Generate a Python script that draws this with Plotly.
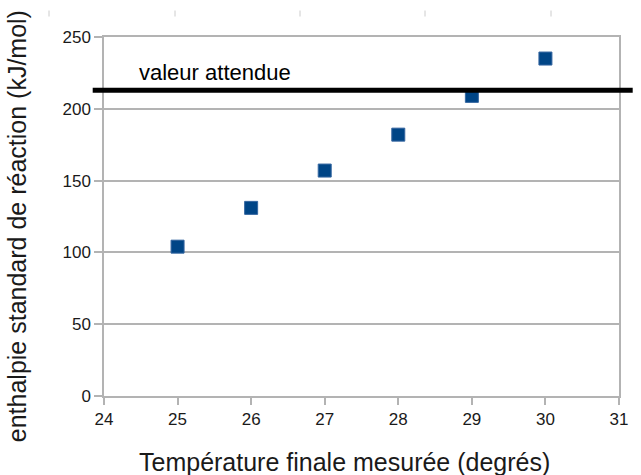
import plotly.graph_objects as go

temperatures = [25, 26, 27, 28, 29, 30]
enthalpies = [104, 131, 157, 182, 209, 235]
expected_value = 213
expected_label = "valeur attendue"
x_title = "Température finale mesurée (degrés)"
y_title = "enthalpie standard de réaction (kJ/mol)"

W, H = 641, 475
SL, SR, ST, SB = 104, 619, 36.5, 396  # plot-area edges in pixels
L, T, R, B = SL, ST, W - SR, H - SB
pw, ph = SR - SL, SB - ST

def px_x(px):
    return (px - SL) / pw

def px_y(py):
    return (SB - py) / ph

fig = go.Figure()
fig.add_trace(go.Scatter(
    x=temperatures, y=enthalpies, mode="markers",
    marker=dict(symbol="square", size=13, color="#004586",
                line=dict(color="#3566a0", width=1)),
    showlegend=False, hoverinfo="x+y"))

shapes = [dict(type="line", xref="paper", yref="y",
               x0=px_x(92.7), x1=px_x(632.7), y0=expected_value, y1=expected_value,
               line=dict(color="black", width=5), layer="above")]
# faint tick artefacts at top of image
for xp in [49, 175, 300, 425, 551]:
    shapes.append(dict(type="line", xref="paper", yref="paper",
                       x0=px_x(xp), x1=px_x(xp), y0=px_y(10), y1=px_y(16),
                       line=dict(color="#cccccc", width=1)))

annotations = [
    dict(text=expected_label, xref="paper", yref="y",
         x=px_x(137), y=expected_value, xanchor="left", yanchor="bottom",
         yshift=3, showarrow=False, font=dict(size=22, color="black")),
    dict(text=x_title, xref="paper", yref="paper",
         x=px_x(344), y=px_y(462), xanchor="center", yanchor="middle",
         showarrow=False, font=dict(size=25, color="#1a1a1a")),
    dict(text=y_title, xref="paper", yref="paper", textangle=-90,
         x=px_x(17), y=px_y(226), xanchor="center", yanchor="middle",
         showarrow=False, font=dict(size=25, color="#1a1a1a")),
]

fig.update_layout(
    width=W, height=H,
    margin=dict(l=L, r=R, t=T, b=B, pad=0),
    paper_bgcolor="white", plot_bgcolor="white",
    font=dict(family="Liberation Sans, Arial, sans-serif", color="#1a1a1a"),
    shapes=shapes,
    annotations=annotations,
    xaxis=dict(range=[24, 31], dtick=1, tick0=24, showgrid=False, zeroline=False,
               showline=True, linecolor="#b3b3b3", linewidth=1.5, mirror=True,
               ticks="outside", ticklen=7, tickcolor="#b3b3b3", tickwidth=1.5,
               tickfont=dict(size=17)),
    yaxis=dict(range=[0, 250], dtick=50, showgrid=True, gridcolor="#b3b3b3",
               gridwidth=1.5, zeroline=False,
               showline=True, linecolor="#b3b3b3", linewidth=1.5, mirror=True,
               ticks="outside", ticklen=8, tickcolor="#b3b3b3", tickwidth=1.5,
               tickfont=dict(size=17)),
)

fig.write_html("out.html", config={"displayModeBar": False},
               post_script="document.body.style.margin='0';document.body.style.overflow='hidden';")
